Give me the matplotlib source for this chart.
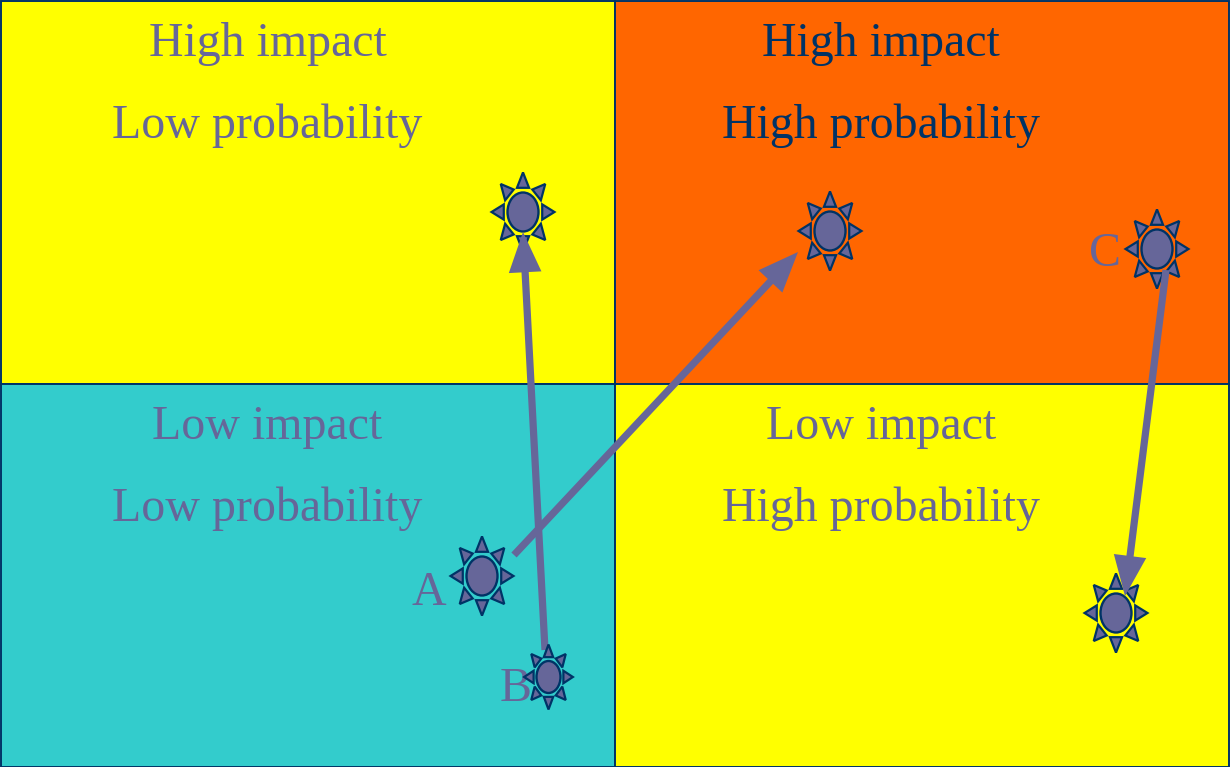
import matplotlib
matplotlib.use("Agg")
import matplotlib.pyplot as plt
from matplotlib.patches import Rectangle, Ellipse, Polygon, FancyArrowPatch
import numpy as np

quad_colors = ["#FFFF00", "#FF6600", "#33CCCC", "#FFFF00"]
quad_x = [1, 615, 1, 615]
quad_y = [1, 1, 384, 384]
quad_w = [614, 614, 614, 614]
quad_h = [383, 383, 383, 383]
quad_line1 = ["High impact", "High impact", "Low impact", "Low impact"]
quad_line2 = ["Low probability", "High probability", "Low probability", "High probability"]
quad_text_colors = ["#666699", "#003366", "#666699", "#666699"]
quad_text_x = [267.5, 881, 267.5, 881]
quad_text_y1 = [44, 44, 427, 427]
quad_text_y2 = [126, 126, 509, 509]

sun_x = [523, 830, 1157, 482, 548.5, 1116]
sun_y = [212, 231, 249, 576, 677, 613]
sun_rx = [15.5, 15.5, 15.5, 15.5, 12, 15.5]
sun_ry = [19.5, 19.5, 19.5, 19.5, 16, 19.5]
sun_layer = [4, 4, 4, 4, 6, 4]

arrow_start_x = [545, 514, 1166]
arrow_start_y = [650, 555, 270]
arrow_end_x = [523, 798, 1125]
arrow_end_y = [232, 252, 596]

label_text = ["A", "B", "C"]
label_x = [429, 516, 1105]
label_y = [593, 689, 254]

PURPLE = "#666699"
NAVY = "#003366"

fig = plt.figure(figsize=(12.30, 7.67), dpi=100)
ax = fig.add_axes([0, 0, 1, 1])
ax.set_xlim(0, 1230)
ax.set_ylim(767, 0)
ax.axis("off")

for x, y, w, h, c in zip(quad_x, quad_y, quad_w, quad_h, quad_colors):
    ax.add_patch(Rectangle((x, y), w, h, facecolor=c, edgecolor=NAVY, linewidth=1.4, zorder=1))

font = dict(family="Liberation Serif", fontsize=34.5, ha="center", va="center", zorder=2)
for tx, y1, y2, l1, l2, c in zip(quad_text_x, quad_text_y1, quad_text_y2, quad_line1, quad_line2, quad_text_colors):
    ax.text(tx, y1, l1, color=c, **font)
    ax.text(tx, y2, l2, color=c, **font)

for t, x, y in zip(label_text, label_x, label_y):
    ax.text(x, y, t, color=PURPLE, **font)


def draw_sun(cx, cy, rx, ry, z):
    ax.add_patch(Ellipse((cx, cy), 2 * rx, 2 * ry, facecolor=PURPLE, edgecolor=NAVY, linewidth=1.7, zorder=z))
    scale = np.array([rx, ry])
    centre = np.array([cx, cy])
    inner, outer, half = 1.24, 2.03, 0.39
    for k in range(8):
        a = k * np.pi / 4
        d = np.array([np.cos(a), np.sin(a)])
        n = np.array([-d[1], d[0]])
        pts = [centre + scale * d * outer,
               centre + scale * (d * inner + n * half),
               centre + scale * (d * inner - n * half)]
        ax.add_patch(Polygon(pts, closed=True, facecolor=PURPLE, edgecolor=NAVY,
                             linewidth=1.6, joinstyle="miter", zorder=z))


for cx, cy, rx, ry, z in zip(sun_x, sun_y, sun_rx, sun_ry, sun_layer):
    draw_sun(cx, cy, rx, ry, z)

for x0, y0, x1, y1 in zip(arrow_start_x, arrow_start_y, arrow_end_x, arrow_end_y):
    ax.add_patch(FancyArrowPatch((x0, y0), (x1, y1),
                                 arrowstyle="simple,head_length=2.9,head_width=2.35,tail_width=0.52",
                                 mutation_scale=10, shrinkA=0, shrinkB=0,
                                 facecolor=PURPLE, edgecolor="none", linewidth=0, zorder=5))

fig.savefig("out.png", dpi=100)
